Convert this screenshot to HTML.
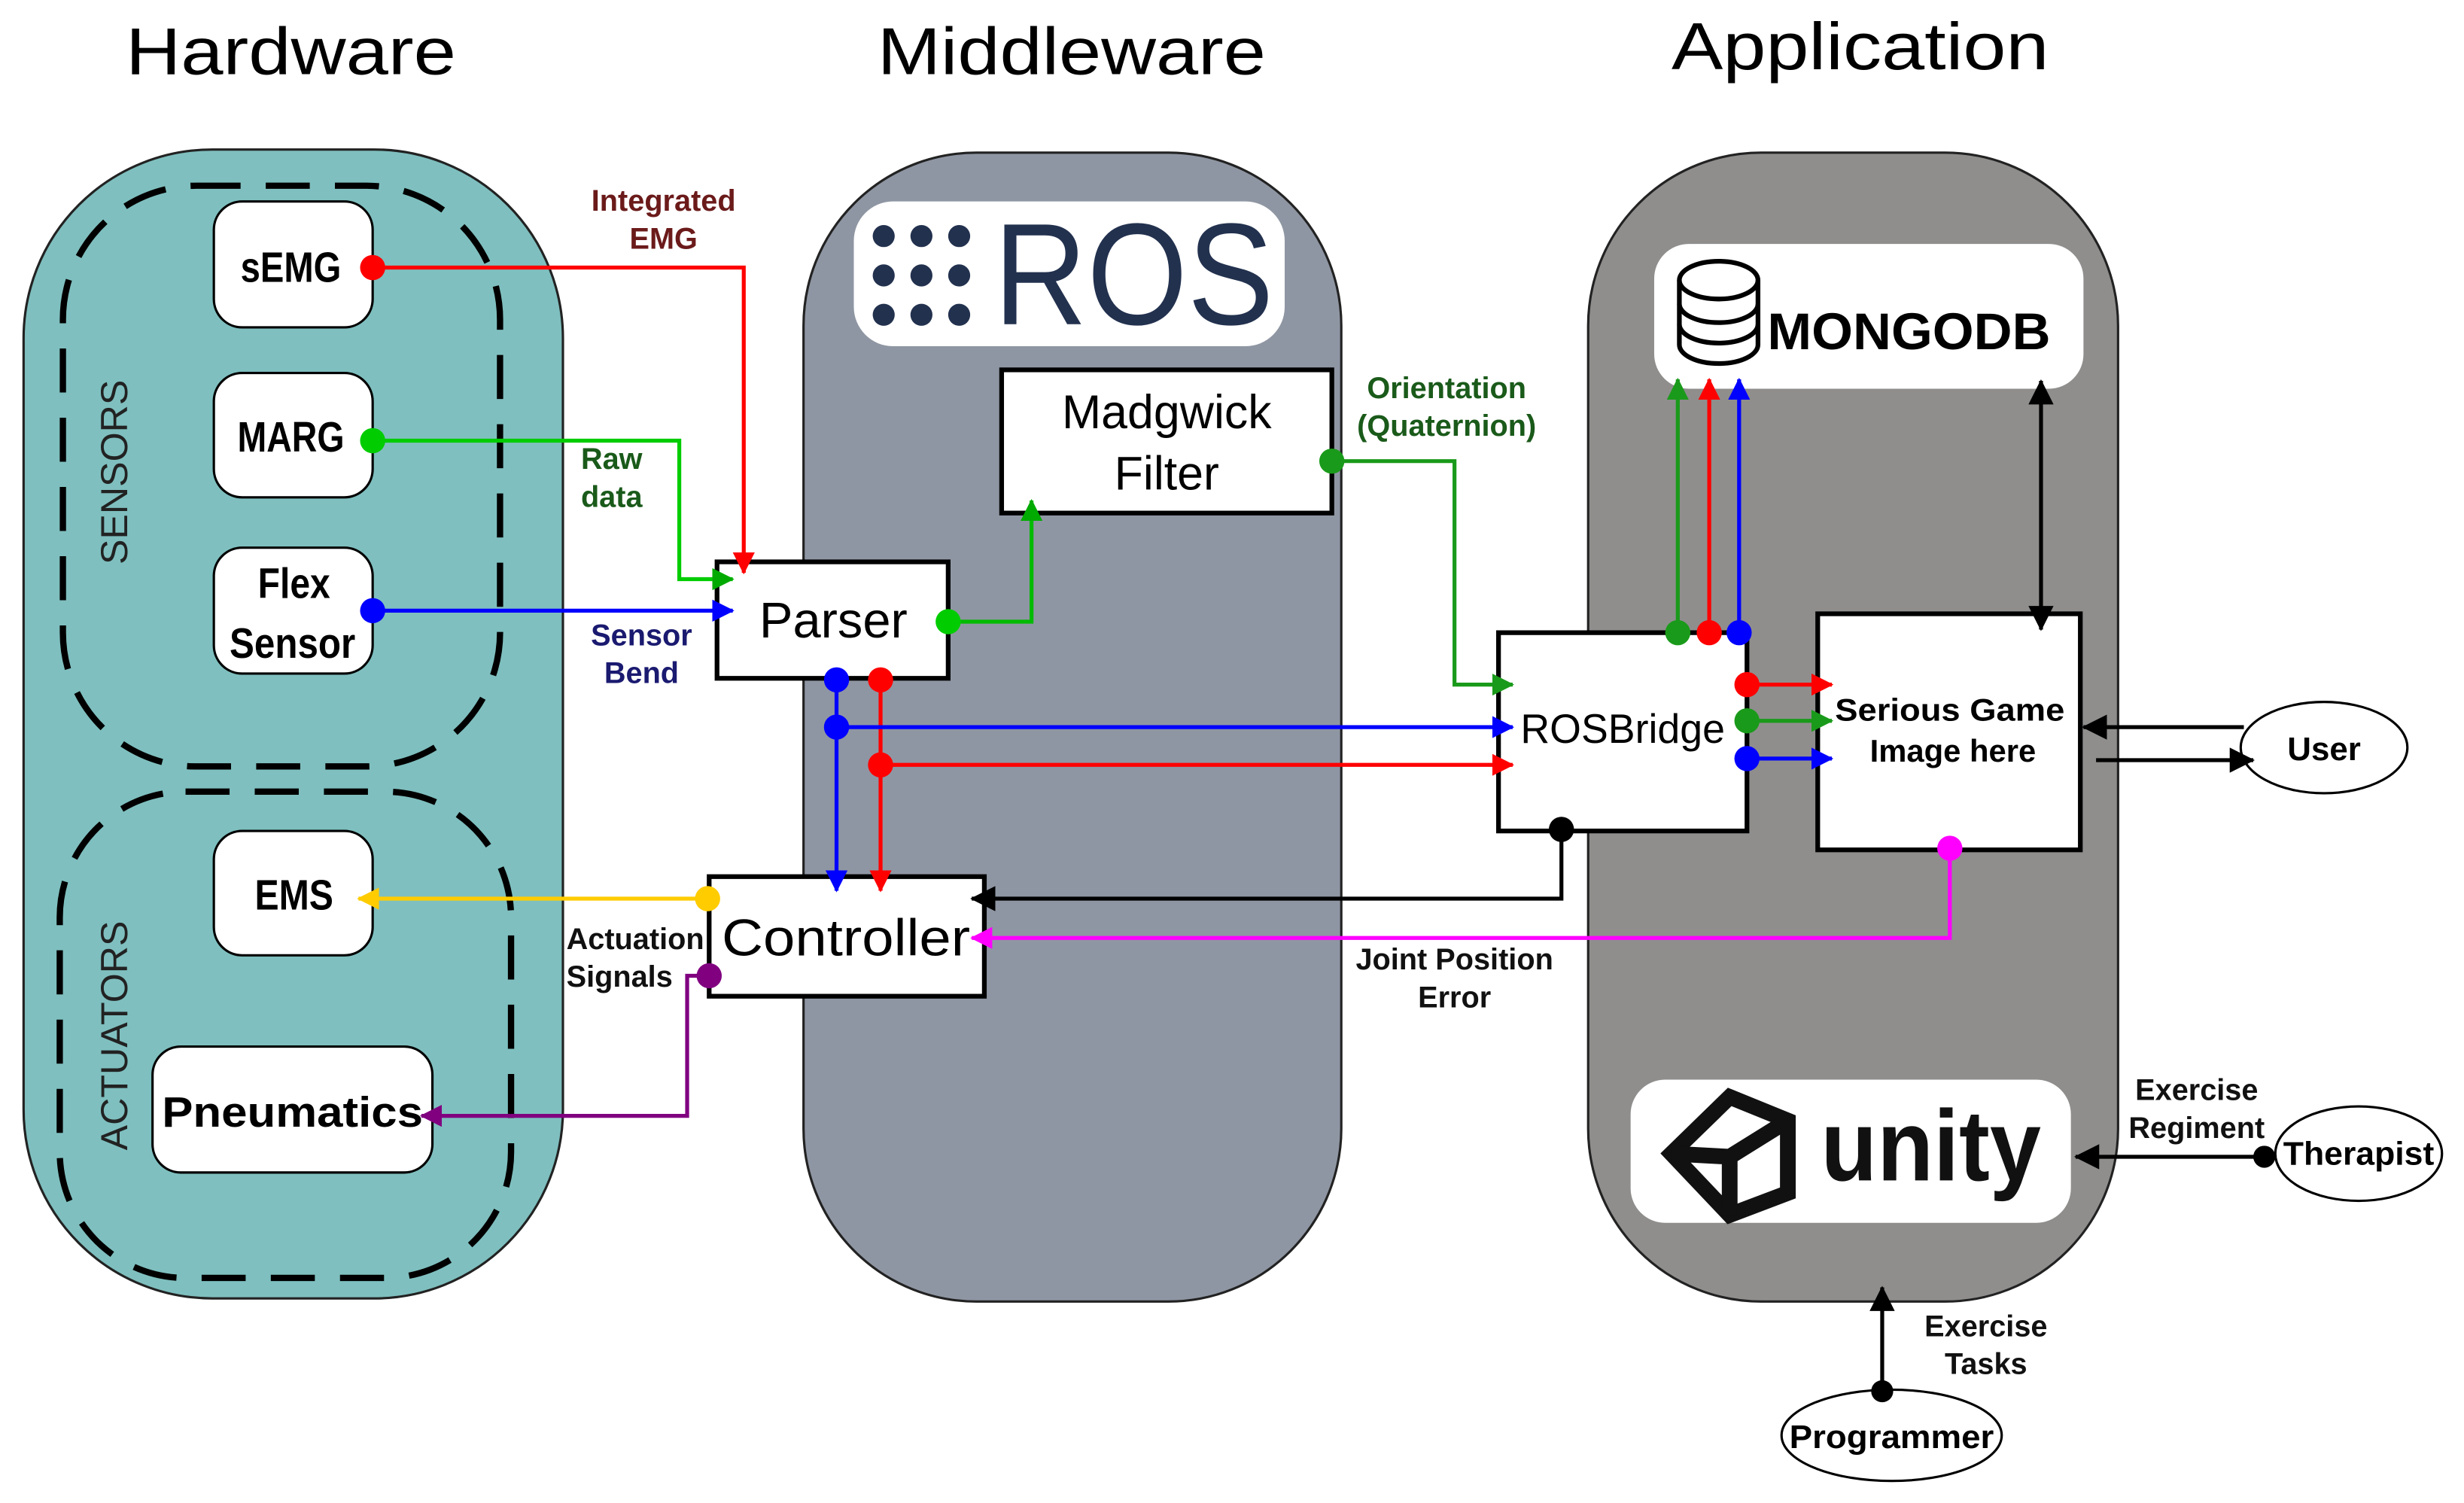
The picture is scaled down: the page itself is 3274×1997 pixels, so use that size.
<!DOCTYPE html>
<html><head><meta charset="utf-8"><style>
html,body{margin:0;padding:0;background:#fff;}
svg{display:block;}
text{font-family:"Liberation Sans",sans-serif;}
</style></head><body>
<svg width="3274" height="1997" viewBox="0 0 1567 955" preserveAspectRatio="none" xmlns="http://www.w3.org/2000/svg">
<defs>
<marker id="ag" markerWidth="14" markerHeight="14" refX="13" refY="7" orient="auto" markerUnits="userSpaceOnUse"><path d="M0,0 L14,7 L0,14z" fill="#0a0"/></marker>
<marker id="adg" markerWidth="14" markerHeight="14" refX="13" refY="7" orient="auto" markerUnits="userSpaceOnUse"><path d="M0,0 L14,7 L0,14z" fill="#1a9a1a"/></marker>
<marker id="ab" markerWidth="14" markerHeight="14" refX="13" refY="7" orient="auto" markerUnits="userSpaceOnUse"><path d="M0,0 L14,7 L0,14z" fill="blue"/></marker>
<marker id="ar2" markerWidth="14" markerHeight="14" refX="13" refY="7" orient="auto" markerUnits="userSpaceOnUse"><path d="M0,0 L14,7 L0,14z" fill="red"/></marker>
<marker id="ak" markerWidth="16" markerHeight="16" refX="15" refY="8" orient="auto" markerUnits="userSpaceOnUse"><path d="M0,0 L16,8 L0,16z" fill="#000"/></marker>
<marker id="aks" markerWidth="16" markerHeight="16" refX="1" refY="8" orient="auto" markerUnits="userSpaceOnUse"><path d="M16,0 L0,8 L16,16z" fill="#000"/></marker>
<marker id="am" markerWidth="14" markerHeight="14" refX="13" refY="7" orient="auto" markerUnits="userSpaceOnUse"><path d="M0,0 L14,7 L0,14z" fill="#f0f"/></marker>
<marker id="ay" markerWidth="14" markerHeight="14" refX="13" refY="7" orient="auto" markerUnits="userSpaceOnUse"><path d="M0,0 L14,7 L0,14z" fill="#ffcc00"/></marker>
<marker id="ap" markerWidth="14" markerHeight="14" refX="13" refY="7" orient="auto" markerUnits="userSpaceOnUse"><path d="M0,0 L14,7 L0,14z" fill="#800080"/></marker>
</defs>

<text x="80" y="47" font-size="42" textLength="210" lengthAdjust="spacingAndGlyphs">Hardware</text>
<text x="558" y="47" font-size="42" textLength="247" lengthAdjust="spacingAndGlyphs">Middleware</text>
<text x="1063" y="44" font-size="42" textLength="240" lengthAdjust="spacingAndGlyphs">Application</text>

<rect x="15" y="95" width="343" height="730" rx="120" fill="#7fbfbf" stroke="#222" stroke-width="1.5"/>
<rect x="511" y="97" width="342" height="730" rx="110" fill="#8f96a3" stroke="#222" stroke-width="1.5"/>
<rect x="1010" y="97" width="337" height="730" rx="110" fill="#8f8e8d" stroke="#222" stroke-width="1.5"/>

<rect x="40" y="118" width="278" height="369" rx="85" fill="none" stroke="#000" stroke-width="4" stroke-dasharray="28,16"/>
<rect x="38" y="503" width="287" height="309" rx="80" fill="none" stroke="#000" stroke-width="4" stroke-dasharray="28,16"/>
<text transform="translate(81,300) rotate(-90)" font-size="24" text-anchor="middle" fill="#222">SENSORS</text>
<text transform="translate(81,658) rotate(-90)" font-size="24" text-anchor="middle" fill="#222">ACTUATORS</text>

<g fill="#fff" stroke="#000" stroke-width="1.5">
<rect x="136" y="128" width="101" height="80" rx="18"/>
<rect x="136" y="237" width="101" height="79" rx="18"/>
<rect x="136" y="348" width="101" height="80" rx="18"/>
<rect x="136" y="528" width="101" height="79" rx="18"/>
<rect x="97" y="665" width="178" height="80" rx="18"/>
</g>
<g font-weight="bold" font-size="27" text-anchor="middle">
<text x="185" y="179" textLength="64" lengthAdjust="spacingAndGlyphs">sEMG</text>
<text x="185" y="287" textLength="68" lengthAdjust="spacingAndGlyphs">MARG</text>
<text x="187" y="380" textLength="46" lengthAdjust="spacingAndGlyphs">Flex</text>
<text x="186" y="418" textLength="80" lengthAdjust="spacingAndGlyphs">Sensor</text>
<text x="187" y="578" textLength="50" lengthAdjust="spacingAndGlyphs">EMS</text>
<text x="186" y="716" textLength="166" lengthAdjust="spacingAndGlyphs">Pneumatics</text>
</g>

<rect x="543" y="128" width="274" height="92" rx="25" fill="#fff"/>
<g fill="#22314e">
<circle cx="562" cy="150" r="7"/><circle cx="586" cy="150" r="7"/><circle cx="610" cy="150" r="7"/>
<circle cx="562" cy="175" r="7"/><circle cx="586" cy="175" r="7"/><circle cx="610" cy="175" r="7"/>
<circle cx="562" cy="200" r="7"/><circle cx="586" cy="200" r="7"/><circle cx="610" cy="200" r="7"/>
<text x="632" y="206" font-size="92" textLength="178" lengthAdjust="spacingAndGlyphs">ROS</text>
</g>

<rect x="637" y="235" width="210" height="91" fill="#fff" stroke="#000" stroke-width="3"/>
<text x="742" y="272" font-size="30" text-anchor="middle">Madgwick</text>
<text x="742" y="311" font-size="30" text-anchor="middle">Filter</text>
<rect x="456" y="357" width="147" height="74" fill="#fff" stroke="#000" stroke-width="3"/>
<text x="530" y="405" font-size="32" text-anchor="middle">Parser</text>
<rect x="451" y="557" width="175" height="76" fill="#fff" stroke="#000" stroke-width="3"/>
<text x="538" y="607" font-size="33" text-anchor="middle" textLength="158" lengthAdjust="spacingAndGlyphs">Controller</text>

<rect x="1052" y="155" width="273" height="92" rx="22" fill="#fff"/>
<g fill="none" stroke="#000" stroke-width="3">
<ellipse cx="1093" cy="178" rx="25" ry="12"/>
<path d="M1068,178 V219 A25,12 0 0 0 1118,219 V178"/>
<path d="M1068,193 A25,12 0 0 0 1118,193"/>
<path d="M1068,206 A25,12 0 0 0 1118,206"/>
</g>
<text x="1124" y="222" font-size="33" font-weight="bold" textLength="180" lengthAdjust="spacingAndGlyphs">MONGODB</text>

<rect x="1037" y="686" width="280" height="91" rx="22" fill="#fff"/>
<g fill="none" stroke="#111" stroke-width="10" stroke-linejoin="miter">
<path d="M1100,697 L1137,712 L1137,758 L1100,772 L1063,733 Z"/>
<path d="M1100,735 L1137,712 M1100,735 L1100,772 M1100,735 L1063,733"/>
</g>
<text x="1158" y="750" font-size="64" font-weight="bold" fill="#111" textLength="140" lengthAdjust="spacingAndGlyphs">unity</text>

<rect x="953" y="402" width="158" height="126" fill="#fff" stroke="#000" stroke-width="3"/>
<text x="1032" y="472" font-size="26" text-anchor="middle" textLength="130" lengthAdjust="spacingAndGlyphs">ROSBridge</text>
<rect x="1156" y="390" width="167" height="150" fill="#fff" stroke="#000" stroke-width="3"/>
<text x="1240" y="458" font-size="20" font-weight="bold" text-anchor="middle" textLength="146" lengthAdjust="spacingAndGlyphs">Serious Game</text>
<text x="1242" y="484" font-size="20" font-weight="bold" text-anchor="middle">Image here</text>

<g fill="#fff" stroke="#000" stroke-width="1.5">
<ellipse cx="1478" cy="475" rx="53" ry="29"/>
<ellipse cx="1500" cy="733" rx="53" ry="30"/>
<ellipse cx="1203" cy="912" rx="70" ry="29"/>
</g>
<g font-weight="bold" font-size="21" text-anchor="middle">
<text x="1478" y="483">User</text>
<text x="1500" y="740" textLength="96" lengthAdjust="spacingAndGlyphs">Therapist</text>
<text x="1203" y="920" textLength="130" lengthAdjust="spacingAndGlyphs">Programmer</text>
</g>

<g fill="none" stroke-width="2.5">
<polyline points="237,170 473,170 473,364" stroke="red" marker-end="url(#ar2)"/>
<polyline points="237,280 432,280 432,368 466,368" stroke="#00cc00" marker-end="url(#ag)"/>
<polyline points="237,388 466,388" stroke="blue" marker-end="url(#ab)"/>
<polyline points="603,395 656,395 656,318" stroke="#00bb00" marker-end="url(#ag)"/>
<polyline points="847,293 925,293 925,435 962,435" stroke="#1a9a1a" marker-end="url(#adg)"/>
<polyline points="532,432 532,566" stroke="blue" marker-end="url(#ab)"/>
<polyline points="560,432 560,566" stroke="red" marker-end="url(#ar2)"/>
<polyline points="532,462 962,462" stroke="blue" marker-end="url(#ab)"/>
<polyline points="560,486 962,486" stroke="red" marker-end="url(#ar2)"/>
<polyline points="1067,402 1067,241" stroke="#1a9a1a" marker-end="url(#adg)"/>
<polyline points="1087,402 1087,241" stroke="red" marker-end="url(#ar2)"/>
<polyline points="1106,402 1106,241" stroke="blue" marker-end="url(#ab)"/>
<polyline points="1111,435 1165,435" stroke="red" marker-end="url(#ar2)"/>
<polyline points="1111,458 1165,458" stroke="#1a9a1a" marker-end="url(#adg)"/>
<polyline points="1111,482 1165,482" stroke="blue" marker-end="url(#ab)"/>
<polyline points="993,527 993,571 618,571" stroke="#000" marker-end="url(#ak)"/>
<polyline points="1240,539 1240,596 618,596" stroke="#f0f" marker-end="url(#am)"/>
<polyline points="450,571 228,571" stroke="#ffcc00" marker-end="url(#ay)"/>
<polyline points="451,620 437,620 437,709 268,709" stroke="#800080" marker-end="url(#ap)"/>
<polyline points="1298,242 1298,400" stroke="#000" marker-start="url(#aks)" marker-end="url(#ak)"/>
<polyline points="1427,462 1325,462" stroke="#000" marker-end="url(#ak)"/>
<polyline points="1333,483 1433,483" stroke="#000" marker-end="url(#ak)"/>
<polyline points="1440,735 1320,735" stroke="#000" marker-end="url(#ak)"/>
<polyline points="1197,884 1197,818" stroke="#000" marker-end="url(#ak)"/>
</g>

<circle cx="237" cy="170" r="8" fill="red"/>
<circle cx="237" cy="280" r="8" fill="#00cc00"/>
<circle cx="237" cy="388" r="8" fill="blue"/>
<circle cx="603" cy="395" r="8" fill="#00cc00"/>
<circle cx="847" cy="293" r="8" fill="#1a9a1a"/>
<circle cx="532" cy="432" r="8" fill="blue"/>
<circle cx="560" cy="432" r="8" fill="red"/>
<circle cx="532" cy="462" r="8" fill="blue"/>
<circle cx="560" cy="486" r="8" fill="red"/>
<circle cx="1067" cy="402" r="8" fill="#1a9a1a"/>
<circle cx="1087" cy="402" r="8" fill="red"/>
<circle cx="1106" cy="402" r="8" fill="blue"/>
<circle cx="1111" cy="435" r="8" fill="red"/>
<circle cx="1111" cy="458" r="8" fill="#1a9a1a"/>
<circle cx="1111" cy="482" r="8" fill="blue"/>
<circle cx="993" cy="527" r="8" fill="#000"/>
<circle cx="1240" cy="539" r="8" fill="#f0f"/>
<circle cx="450" cy="571" r="8" fill="#ffcc00"/>
<circle cx="451" cy="620" r="8" fill="#800080"/>
<circle cx="1440" cy="735" r="7" fill="#000"/>
<circle cx="1197" cy="884" r="7" fill="#000"/>

<g font-size="19" font-weight="bold" text-anchor="middle">
<text x="422" y="134" fill="#6b1a1a">Integrated</text>
<text x="422" y="158" fill="#6b1a1a">EMG</text>
<text x="389" y="298" fill="#1a5a1a">Raw</text>
<text x="389" y="322" fill="#1a5a1a">data</text>
<text x="408" y="410" fill="#1a1a70">Sensor</text>
<text x="408" y="434" fill="#1a1a70">Bend</text>
<text x="920" y="253" fill="#1a5a1a">Orientation</text>
<text x="920" y="277" fill="#1a5a1a">(Quaternion)</text>
<text x="404" y="603" fill="#111">Actuation</text>
<text x="394" y="627" fill="#111">Signals</text>
<text x="925" y="616" fill="#111">Joint Position</text>
<text x="925" y="640" fill="#111">Error</text>
<text x="1397" y="699" fill="#111">Exercise</text>
<text x="1397" y="723" fill="#111">Regiment</text>
<text x="1263" y="849" fill="#111">Exercise</text>
<text x="1263" y="873" fill="#111">Tasks</text>
</g>
</svg>
</body></html>
